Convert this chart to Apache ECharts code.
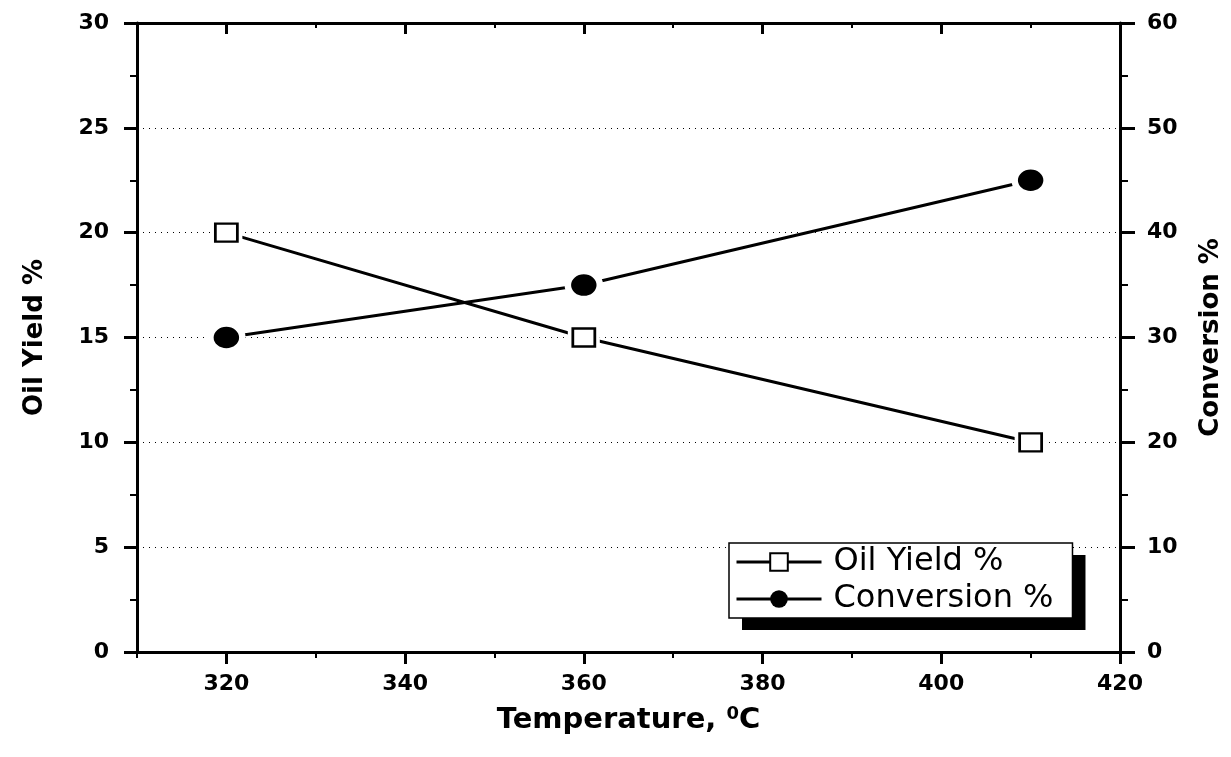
<!DOCTYPE html>
<html>
<head>
<meta charset="utf-8">
<script src="https://cdn.jsdelivr.net/npm/echarts@6/dist/echarts.min.js"></script>
<style>html,body{margin:0;padding:0;background:#fff}#c{width:1231px;height:757px}</style>
</head>
<body>
<div id="c"></div>
<script>
const temperatures = [320, 360, 410];
const oilYield = [20, 15, 10];
const conversion = [30, 35, 45];
const xMajorTicks = [320, 340, 360, 380, 400, 420];
const xMinorTicks = [310, 330, 350, 370, 390, 410];
const legendNames = ['Oil Yield %', 'Conversion %'];

const BFONT = '"DejaVu Sans", Arial, sans-serif';
const chart = echarts.init(document.getElementById('c'), null, {renderer: 'canvas'});

const oilPts = temperatures.map((t, i) => [t, oilYield[i]]);
const convPts = temperatures.map((t, i) => [t, conversion[i]]);

function xAx(pos, ticks, len, width, inside, showLine, showLabels, extra) {
  return Object.assign({
    type: 'value', position: pos, min: 310, max: 420, interval: 10,
    axisLine: {show: showLine, onZero: false, lineStyle: {color: '#000', width: 3}},
    axisTick: {show: true, customValues: ticks, length: len, inside: inside, lineStyle: {color: '#000', width: width}},
    axisLabel: showLabels ? {show: true, customValues: xMajorTicks, margin: 21, color: '#000', fontWeight: 'bold', fontSize: 22, fontFamily: BFONT} : {show: false},
    splitLine: {show: false}
  }, extra || {});
}

function legendBox(left, top, isShadow) {
  const clear = 'rgba(0,0,0,0)';
  return {
    orient: 'vertical', left: left, top: top,
    padding: [3, 19, 3, 6], itemGap: 5,
    itemWidth: 85, itemHeight: 22,
    selectedMode: false,
    z: isShadow ? 5 : 6,
    backgroundColor: isShadow ? '#000' : '#fff',
    borderColor: '#000', borderWidth: isShadow ? 0 : 1.5,
    lineStyle: isShadow ? {width: 3, color: clear, opacity: 0} : {width: 3, color: '#000'},
    itemStyle: isShadow ? {opacity: 0} : {},
    textStyle: {fontSize: 32, color: isShadow ? clear : '#000', fontFamily: BFONT, padding: [0, 0, 0, 7]},
    data: legendNames
  };
}

const option = {
  backgroundColor: '#fff',
  animation: false,
  grid: {left: 137, right: 111, top: 23, bottom: 105, containLabel: false, outerBoundsMode: 'none'},
  legend: [legendBox(742, 555, true), legendBox(729, 543, false)],
  xAxis: [
    xAx('bottom', xMajorTicks, 12, 3, false, true, true, {
      name: 'Temperature, {sup|0}C', nameLocation: 'middle', nameGap: 53,
      nameTextStyle: {color: '#000', fontWeight: 'bold', fontSize: 29, fontFamily: BFONT,
        rich: {sup: {fontSize: 18, fontWeight: 'bold', fontFamily: BFONT, color: '#000', verticalAlign: 'top', padding: [0, 0, 12, 0]}}}
    }),
    xAx('bottom', xMinorTicks, 6, 2, false, false, false),
    xAx('top', xMajorTicks, 11, 3, true, true, false),
    xAx('top', xMinorTicks, 5, 2, true, false, false)
  ],
  yAxis: [
    {
      type: 'value', position: 'left', min: 0, max: 30, interval: 5,
      name: 'Oil Yield %', nameLocation: 'middle', nameGap: 89, nameRotate: 90,
      nameTextStyle: {color: '#000', fontWeight: 'bold', fontSize: 26, fontFamily: BFONT},
      axisLine: {show: true, lineStyle: {color: '#000', width: 3}},
      axisTick: {show: true, length: 13, lineStyle: {color: '#000', width: 3}},
      minorTick: {show: true, splitNumber: 2, length: 7, lineStyle: {color: '#000', width: 2}},
      axisLabel: {margin: 28, color: '#000', fontWeight: 'bold', fontSize: 22, fontFamily: BFONT},
      splitLine: {show: true, lineStyle: {color: '#000', width: 1, type: [1, 5]}}
    },
    {
      type: 'value', position: 'right', min: 0, max: 60, interval: 10,
      name: 'Conversion %', nameLocation: 'middle', nameGap: 78, nameRotate: 90,
      nameTextStyle: {color: '#000', fontWeight: 'bold', fontSize: 26, fontFamily: BFONT},
      axisLine: {show: true, lineStyle: {color: '#000', width: 3}},
      axisTick: {show: true, length: 15, lineStyle: {color: '#000', width: 3}},
      minorTick: {show: true, splitNumber: 2, length: 8, lineStyle: {color: '#000', width: 2}},
      axisLabel: {margin: 27, color: '#000', fontWeight: 'bold', fontSize: 22, fontFamily: BFONT},
      splitLine: {show: false}
    }
  ],
  series: [
    {
      name: 'Oil Yield %', type: 'line', xAxisIndex: 0, yAxisIndex: 0,
      data: oilPts,
      symbol: 'rect', symbolSize: [20, 17],
      lineStyle: {color: '#000', width: 3},
      itemStyle: {color: '#fff', borderColor: '#000', borderWidth: 2},
      z: 2
    },
    {
      name: 'Conversion %', type: 'line', xAxisIndex: 0, yAxisIndex: 1,
      data: convPts,
      symbol: 'circle', symbolSize: [20, 18],
      lineStyle: {color: '#000', width: 3},
      itemStyle: {color: '#000', borderColor: '#000', borderWidth: 0},
      z: 2
    },
    {
      name: 'oilGap', type: 'scatter', xAxisIndex: 0, yAxisIndex: 0,
      data: oilPts, symbol: 'rect', symbolSize: [32, 28],
      itemStyle: {color: '#fff', borderWidth: 0, opacity: 1}, silent: true, z: 3
    },
    {
      name: 'oilMark', type: 'scatter', xAxisIndex: 0, yAxisIndex: 0,
      data: oilPts, symbol: 'rect', symbolSize: [22, 18],
      itemStyle: {color: '#fff', borderColor: '#000', borderWidth: 2.5, opacity: 1}, silent: true, z: 4
    },
    {
      name: 'convMark', type: 'scatter', xAxisIndex: 0, yAxisIndex: 1,
      data: convPts, symbol: 'circle', symbolSize: [32, 27],
      itemStyle: {color: '#000', borderColor: '#fff', borderWidth: 6, opacity: 1}, silent: true, z: 4
    }
  ]
};
chart.setOption(option);
</script>
</body>
</html>
